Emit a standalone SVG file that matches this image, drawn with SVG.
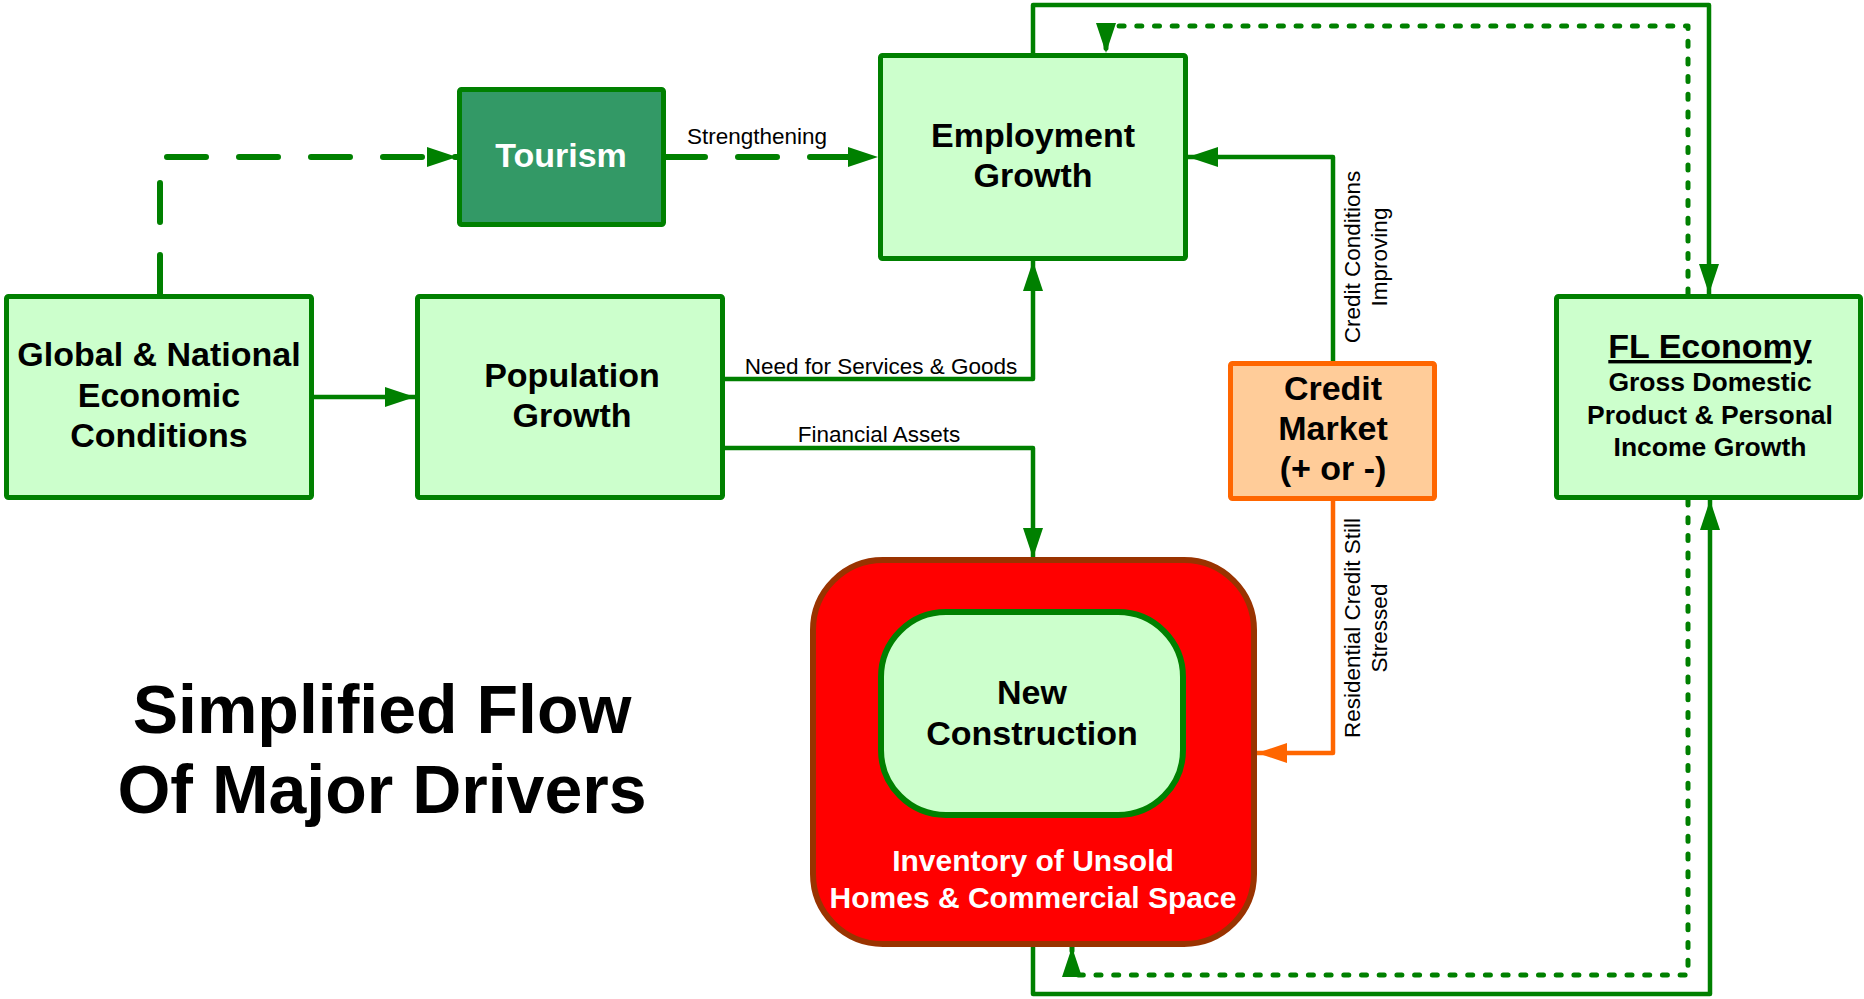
<svg xmlns="http://www.w3.org/2000/svg" width="1864" height="999" viewBox="0 0 1864 999">
<style>
.box{fill:#CCFFCC;stroke:#008000;stroke-width:5}
.t{font-family:"Liberation Sans",Arial,sans-serif;font-weight:bold;text-anchor:middle;fill:#000}
.lbl{font-family:"Liberation Sans",Arial,sans-serif;font-size:22.5px;text-anchor:middle;fill:#000}
.c{fill:none;stroke:#008000;stroke-width:4.5;stroke-linejoin:round}
.dash{stroke-width:6;stroke-dasharray:39 33;stroke-linecap:round}
.dot{stroke-width:5;stroke-dasharray:5 12.7;stroke-linecap:round}
</style>
<defs>
<marker id="ag" markerUnits="userSpaceOnUse" markerWidth="30" markerHeight="20" refX="30" refY="10" orient="auto"><path d="M0,0 L30,10 L0,20 z" fill="#008000"/></marker>
<marker id="ao" markerUnits="userSpaceOnUse" markerWidth="30" markerHeight="20" refX="30" refY="10" orient="auto"><path d="M0,0 L30,10 L0,20 z" fill="#FF6600"/></marker>
</defs>
<rect width="1864" height="999" fill="#fff"/>
<g id="connectors">
<path class="c dash" d="M160,294 V157 H457" marker-end="url(#ag)"/>
<path class="c dash" d="M666,157 H878" marker-end="url(#ag)"/>
<path class="c" d="M314,397 H415" marker-end="url(#ag)"/>
<path class="c" d="M725,379 H1033 V261" marker-end="url(#ag)"/>
<path class="c" d="M725,448 H1033 V558" marker-end="url(#ag)"/>
<path class="c" d="M1333,361 V157 H1188" marker-end="url(#ag)"/>
<path class="c" style="stroke:#FF6600" d="M1333,501 V753 H1257" marker-end="url(#ao)"/>
<path class="c" d="M1033,53 V5 H1709 V294" marker-end="url(#ag)"/>
<path class="c dot" d="M1688,294 V26 H1106 V53" marker-end="url(#ag)"/>
<path class="c" d="M1033,947 V994 H1710 V500" marker-end="url(#ag)"/>
<path class="c dot" d="M1688,500 V975 H1072 V947" marker-end="url(#ag)"/>
<text class="lbl" x="757" y="144">Strengthening</text>
<text class="lbl" x="881" y="374">Need for Services &amp; Goods</text>
<text class="lbl" x="879" y="442">Financial Assets</text>
<g transform="translate(1360,257) rotate(-90)">
<text class="lbl" x="0" y="0">Credit Conditions</text>
<text class="lbl" x="0" y="27">Improving</text>
</g>
<g transform="translate(1360,628) rotate(-90)">
<text class="lbl" x="0" y="0">Residential Credit Still</text>
<text class="lbl" x="0" y="27">Stressed</text>
</g>
</g>
<g id="global">
<rect class="box" x="6.5" y="296.5" width="305" height="201" rx="2"/>
<text class="t" font-size="34" x="159" y="366">Global &amp; National</text>
<text class="t" font-size="34" x="159" y="407">Economic</text>
<text class="t" font-size="34" x="159" y="447">Conditions</text>
</g>
<g id="population">
<rect class="box" x="417.5" y="296.5" width="305" height="201" rx="2"/>
<text class="t" font-size="34" x="572" y="387">Population</text>
<text class="t" font-size="34" x="572" y="427">Growth</text>
</g>
<g id="tourism">
<rect class="box" style="fill:#339966" x="459.5" y="89.5" width="204" height="135" rx="2"/>
<text class="t" font-size="34" x="561" y="167" fill="#fff" style="fill:#fff">Tourism</text>
</g>
<g id="employment">
<rect class="box" x="880.5" y="55.5" width="305" height="203" rx="2"/>
<text class="t" font-size="34" x="1033" y="147">Employment</text>
<text class="t" font-size="34" x="1033" y="187">Growth</text>
</g>
<g id="credit">
<rect class="box" style="fill:#FFCC99;stroke:#FF6600" x="1230.5" y="363.5" width="204" height="135" rx="2"/>
<text class="t" font-size="34" x="1333" y="400">Credit</text>
<text class="t" font-size="34" x="1333" y="440">Market</text>
<text class="t" font-size="34" x="1333" y="480">(+ or -)</text>
</g>
<g id="fl-economy">
<rect class="box" x="1556.5" y="296.5" width="304" height="201" rx="2"/>
<text class="t" font-size="34" x="1710" y="358" text-decoration="underline">FL Economy</text>
<text class="t" font-size="26.5" x="1710" y="391">Gross Domestic</text>
<text class="t" font-size="26.5" x="1710" y="424">Product &amp; Personal</text>
<text class="t" font-size="26.5" x="1710" y="456">Income Growth</text>
</g>
<g id="inventory">
<rect x="813" y="560" width="441" height="384" rx="70" fill="#FF0000" stroke="#993300" stroke-width="6"/>
<text class="t" font-size="30" x="1033" y="871" style="fill:#fff">Inventory of Unsold</text>
<text class="t" font-size="30" x="1033" y="908" style="fill:#fff">Homes &amp; Commercial Space</text>
</g>
<g id="new-construction">
<rect x="881" y="612" width="302" height="203" rx="65" fill="#CCFFCC" stroke="#008000" stroke-width="6"/>
<text class="t" font-size="34" x="1032" y="704">New</text>
<text class="t" font-size="34" x="1032" y="745">Construction</text>
</g>
<g id="title">
<text class="t" font-size="68" x="382" y="733">Simplified Flow</text>
<text class="t" font-size="68" x="382" y="813">Of Major Drivers</text>
</g>
</svg>
